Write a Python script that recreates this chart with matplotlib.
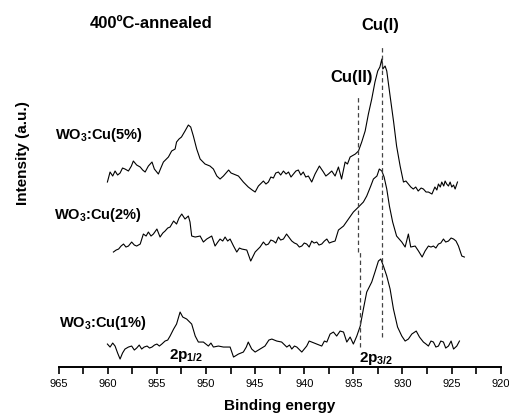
import matplotlib.pyplot as plt

plt.rcParams['font.family'] = ['Liberation Sans', 'DejaVu Sans']
plt.rcParams['mathtext.fontset'] = 'custom'
plt.rcParams['mathtext.rm'] = 'Liberation Sans'
plt.rcParams['mathtext.bf'] = 'Liberation Sans:bold'

# Cu 2p spectra (binding energy in eV, intensity in a.u., offset stacked)
be_5 = [960.04, 959.77, 959.5, 959.26, 959.0, 958.75, 958.5, 958.25, 957.9, 957.6, 957.4, 957.06, 956.7,
        956.45, 956.2, 955.87, 955.5, 955.26, 954.85, 954.6, 954.34, 953.83, 953.5, 953.15, 953.0,
        952.75, 952.5, 952.14, 951.8, 951.56, 951.29, 950.95, 950.6, 950.1, 949.6, 949.25, 948.9,
        948.57, 948.23, 947.7, 947.45, 947.2, 946.7, 946.2, 945.7, 945.3, 945.0, 944.67, 944.16,
        943.9, 943.65, 943.4, 943.14, 942.9, 942.63, 942.4, 942.12, 941.85, 941.6, 941.35, 941.1,
        940.85, 940.6, 940.35, 940.1, 939.85, 939.58, 939.24, 938.9, 938.46, 938.05, 937.8, 937.54,
        937.2, 936.86, 936.52, 936.2, 935.84, 935.6, 935.33, 934.8, 934.48, 934.15, 933.8, 933.47,
        933.13, 932.8, 932.52, 932.3, 932.1, 932.0, 931.77, 931.6, 931.26, 930.9, 930.6, 930.24,
        929.9, 929.65, 929.4, 929.15, 928.9, 928.65, 928.4, 928.1, 927.87, 927.6, 927.36, 927.0,
        926.7, 926.5, 926.34, 926.15, 926.0, 925.8, 925.66, 925.5, 925.32, 925.15, 924.98, 924.8,
        924.64, 924.4]
int_5 = [185, 195, 191, 196, 192, 194, 199, 198, 196, 201, 206, 202, 200,
         197, 195, 201, 205, 198, 193, 199, 205, 210, 216, 218, 225,
         228, 230, 236, 242, 240, 231, 218, 208, 203, 201, 198, 191,
         188, 191, 197, 194, 193, 191, 185, 180, 177, 175, 181, 186,
         183, 185, 190, 189, 194, 195, 192, 196, 193, 195, 190, 193,
         196, 197, 192, 195, 190, 191, 185, 193, 201, 195, 191, 193,
         196, 191, 200, 188, 205, 203, 210, 213, 216, 225, 236, 253,
         268, 285, 296, 300, 308, 298, 301, 296, 271, 245, 221, 201,
         185, 186, 183, 180, 178, 180, 176, 179, 178, 175, 175, 173,
         180, 177, 183, 180, 185, 181, 186, 183, 181, 185, 180, 182,
         178, 185]

be_2 = [959.43, 959.15, 958.9, 958.65, 958.4, 958.15, 957.9, 957.57, 957.3, 957.06, 956.7, 956.38,
        956.1, 955.87, 955.6, 955.36, 955.0, 954.68, 954.4, 954.17, 953.9, 953.66, 953.3, 953.0,
        952.75, 952.47, 952.14, 951.8, 951.63, 951.46, 951.1, 950.6, 950.27, 949.93, 949.42, 949.08,
        948.8, 948.57, 948.3, 948.06, 947.8, 947.55, 947.2, 946.87, 946.6, 946.36, 945.85, 945.45,
        945.0, 944.5, 944.16, 943.9, 943.65, 943.4, 943.14, 942.9, 942.63, 942.4, 942.12, 941.8,
        941.5, 941.27, 941.0, 940.76, 940.5, 940.25, 940.0, 939.75, 939.5, 939.24, 939.0, 938.73,
        938.5, 938.22, 937.95, 937.7, 937.45, 937.2, 936.86, 936.52, 936.0, 935.5, 935.0, 934.48,
        933.98, 933.64, 933.23, 932.96, 932.6, 932.36, 932.1, 931.87, 931.6, 931.33, 931.0, 930.6,
        930.07, 929.73, 929.4, 929.16, 928.71, 928.37, 928.0, 927.7, 927.36, 927.1, 926.85, 926.6,
        926.34, 926.1, 925.83, 925.6, 925.32, 925.05, 924.8, 924.55, 924.3, 923.96, 923.7]
int_2 = [115, 117, 118, 121, 123, 120, 121, 125, 122, 121, 123, 133,
         131, 135, 131, 133, 138, 130, 134, 136, 139, 140, 146, 143,
         149, 153, 148, 151, 145, 131, 130, 131, 125, 128, 131, 121,
         125, 128, 126, 130, 126, 128, 121, 115, 119, 118, 117, 106,
         115, 120, 125, 122, 123, 127, 126, 124, 130, 127, 128, 133,
         129, 126, 124, 123, 120, 121, 124, 123, 120, 126, 124, 125,
         122, 123, 126, 128, 124, 125, 126, 137, 141, 148, 155, 160,
         165, 171, 181, 188, 191, 198, 196, 190, 178, 161, 145, 131,
         125, 120, 133, 120, 121, 116, 110, 116, 121, 120, 121, 119,
         123, 124, 128, 125, 126, 129, 128, 126, 121, 111, 110]

be_1 = [960.04, 959.77, 959.5, 959.26, 959.0, 958.75, 958.5, 958.25, 957.9, 957.57, 957.3, 957.06,
        956.8, 956.55, 956.3, 956.0, 955.75, 955.5, 955.25, 955.0, 954.75, 954.5, 954.17, 953.9,
        953.66, 953.3, 953.0, 952.64, 952.37, 951.97, 951.46, 951.1, 950.78, 950.27, 949.76, 949.5,
        949.25, 948.74, 948.23, 947.55, 947.2, 946.7, 946.2, 945.9, 945.7, 945.35, 945.0, 944.5,
        944.0, 943.6, 943.3, 942.8, 942.3, 941.78, 941.5, 941.27, 941.0, 940.76, 940.25, 939.75,
        939.5, 939.24, 938.73, 938.22, 937.95, 937.7, 937.37, 937.03, 936.7, 936.35, 936.0, 935.67,
        935.33, 935.0, 934.65, 934.3, 933.98, 933.64, 933.13, 932.8, 932.45, 932.21, 931.94, 931.6,
        931.26, 930.92, 930.5, 930.07, 929.73, 929.4, 929.05, 928.6, 928.27, 927.87, 927.6, 927.36,
        927.1, 926.85, 926.6, 926.34, 926.1, 925.83, 925.6, 925.32, 925.05, 924.8, 924.47, 924.2]
int_1 = [23, 20, 24, 21, 14, 8, 14, 18, 20, 21, 17, 19,
         22, 18, 20, 21, 19, 20, 22, 23, 21, 23, 26, 27,
         31, 38, 43, 55, 50, 48, 43, 31, 25, 25, 21, 24,
         20, 21, 20, 20, 10, 13, 15, 20, 25, 18, 15, 18,
         21, 27, 28, 26, 25, 20, 22, 18, 21, 20, 15, 21,
         26, 25, 23, 21, 26, 25, 33, 35, 31, 36, 35, 25,
         30, 23, 31, 41, 58, 75, 85, 95, 106, 108, 101, 91,
         78, 58, 40, 31, 26, 28, 33, 36, 30, 25, 23, 21,
         26, 25, 20, 21, 26, 25, 19, 21, 26, 18, 21, 26]

# dashed markers: (binding energy, bottom, top)
cu1_line = (932.1, 30, 322)
cu2_line_upper = (934.55, 115, 271)
cu2_line_lower = (934.35, 20, 115)

xticks_major = [965, 960, 955, 950, 945, 940, 935, 930, 925, 920]
xticks_minor = [962.5, 957.5, 952.5, 947.5, 942.5, 937.5, 932.5, 927.5, 922.5]

fig = plt.figure(figsize=(5.09, 4.14), dpi=100)
ax = fig.add_axes([0.1153, 0.111, 0.8684, 0.889])

for be, it in [(be_5, int_5), (be_2, int_2), (be_1, int_1)]:
    ax.plot(be, it, color='black', lw=0.8)

for x, y0, y1 in [cu1_line, cu2_line_upper, cu2_line_lower]:
    ax.plot([x, x], [y0, y1], color='#444444', lw=0.9, dashes=(3.5, 2.5))

ax.set_xlim(965, 920)
ax.set_ylim(0, 368)
ax.set_xticks(xticks_major)
ax.set_xticks(xticks_minor, minor=True)
ax.set_yticks([])
for s in ['left', 'right', 'top']:
    ax.spines[s].set_visible(False)
ax.spines['bottom'].set_linewidth(1.4)
ax.tick_params(axis='x', which='both', direction='out', length=5, width=1.2, labelsize=8, pad=3)

ax.set_xlabel('Binding energy', fontsize=11, fontweight='bold', labelpad=7)
ax.set_ylabel('Intensity (a.u.)', fontsize=11, fontweight='bold')
ax.yaxis.set_label_coords(-0.066, 0.585)

ax.text(955.6, 345, '400ºC-annealed', fontsize=12, fontweight='bold', ha='center', va='center')
ax.text(932.3, 343, 'Cu(I)', fontsize=12, fontweight='bold', ha='center', va='center')
ax.text(935.2, 291, 'Cu(II)', fontsize=12, fontweight='bold', ha='center', va='center')
ax.text(965.4, 233, r'WO$_\mathbf{3}$:Cu(5%)', fontsize=10.5, fontweight='bold', ha='left', va='center')
ax.text(965.5, 153, r'WO$_\mathbf{3}$:Cu(2%)', fontsize=10.5, fontweight='bold', ha='left', va='center')
ax.text(965.0, 45, r'WO$_\mathbf{3}$:Cu(1%)', fontsize=10.5, fontweight='bold', ha='left', va='center')
ax.text(953.8, 13, r'2p$_\mathbf{1/2}$', fontsize=11, fontweight='bold', ha='left', va='center')
ax.text(934.4, 10, r'2p$_\mathbf{3/2}$', fontsize=11, fontweight='bold', ha='left', va='center')

fig.savefig('out.png', dpi=100)
